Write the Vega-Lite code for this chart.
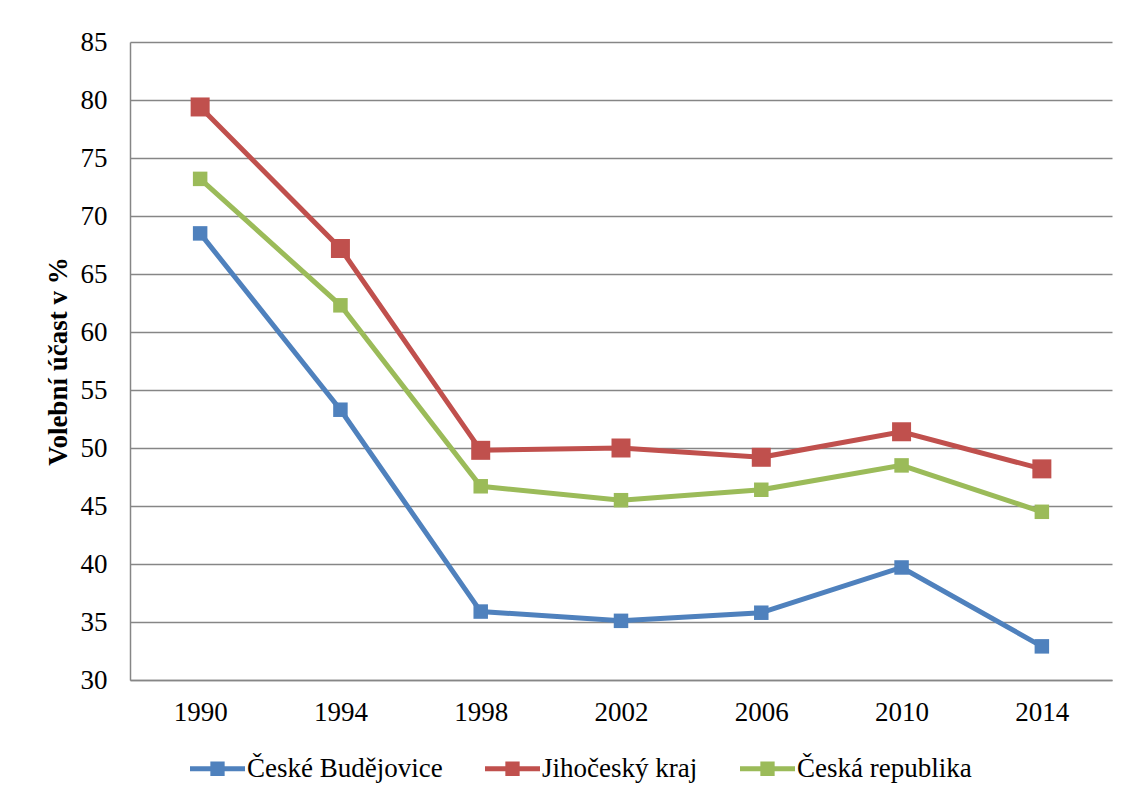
{
  "$schema": "https://vega.github.io/schema/vega-lite/v6.json",
  "width": 982,
  "height": 638,
  "autosize": {"type": "none"},
  "padding": {"left": 130, "top": 42, "right": 17, "bottom": 118},
  "background": "white",
  "data": {
    "values": [
      {"series": "České Budějovice", "year": "1990", "value": 68.5},
      {"series": "České Budějovice", "year": "1994", "value": 53.3},
      {"series": "České Budějovice", "year": "1998", "value": 35.9},
      {"series": "České Budějovice", "year": "2002", "value": 35.1},
      {"series": "České Budějovice", "year": "2006", "value": 35.8},
      {"series": "České Budějovice", "year": "2010", "value": 39.7},
      {"series": "České Budějovice", "year": "2014", "value": 32.9},
      {"series": "Jihočeský kraj", "year": "1990", "value": 79.4},
      {"series": "Jihočeský kraj", "year": "1994", "value": 67.2},
      {"series": "Jihočeský kraj", "year": "1998", "value": 49.8},
      {"series": "Jihočeský kraj", "year": "2002", "value": 50.0},
      {"series": "Jihočeský kraj", "year": "2006", "value": 49.2},
      {"series": "Jihočeský kraj", "year": "2010", "value": 51.4},
      {"series": "Jihočeský kraj", "year": "2014", "value": 48.2},
      {"series": "Česká republika", "year": "1990", "value": 73.2},
      {"series": "Česká republika", "year": "1994", "value": 62.3},
      {"series": "Česká republika", "year": "1998", "value": 46.7},
      {"series": "Česká republika", "year": "2002", "value": 45.5},
      {"series": "Česká republika", "year": "2006", "value": 46.4},
      {"series": "Česká republika", "year": "2010", "value": 48.5},
      {"series": "Česká republika", "year": "2014", "value": 44.5}
    ]
  },
  "encoding": {
    "x": {
      "field": "year", "type": "ordinal", "sort": null,
      "scale": {"type": "point", "padding": 0.5},
      "axis": {"title": null, "labelAngle": 0, "ticks": false, "tickSize": 0, "labelPadding": 19, "grid": false,
        "labelFont": "Liberation Serif", "labelFontSize": 27, "labelColor": "black"}
    },
    "y": {
      "field": "value", "type": "quantitative",
      "scale": {"domain": [30, 85], "nice": false, "zero": false},
      "axis": {"title": "Volební účast v %", "values": [30,35,40,45,50,55,60,65,70,75,80,85], "ticks": false, "tickSize": 0, "labelPadding": 23, "titlePadding": 8, "grid": true,
        "labelFont": "Liberation Serif", "labelFontSize": 27, "labelColor": "black",
        "titleFont": "Liberation Serif", "titleFontSize": 27, "titleFontWeight": "bold", "titleColor": "black"}
    },
    "color": {
      "field": "series", "type": "nominal",
      "scale": {"domain": ["České Budějovice", "Jihočeský kraj", "Česká republika"], "range": ["#4F81BD", "#C0504D", "#9BBB59"]},
      "legend": {
        "orient": "none", "legendX": 60, "legendY": 699, "direction": "horizontal", "title": null,
        "symbolType": "M-1,-0.09H1V0.09H-1Z M-0.26,-0.26H0.26V0.26H-0.26Z",
        "symbolSize": 3025, "symbolStrokeWidth": 0, "symbolOpacity": 1,
        "labelFont": "Liberation Serif", "labelFontSize": 27, "labelColor": "black", "labelOffset": 2, "labelLimit": 400,
        "columnPadding": 42,
        "encode": {"symbols": {"update": {"fill": {"scale": "color", "field": "value"}, "stroke": {"value": "transparent"}, "opacity": {"value": 1}}}}
      }
    }
  },
  "layer": [
    {"mark": {"type": "line", "strokeWidth": 5}},
    {
      "mark": {"type": "point", "shape": "square", "filled": true, "opacity": 1},
      "encoding": {
        "size": {"condition": {"test": "datum.series === 'Jihočeský kraj'", "value": 361}, "value": 210}
      }
    }
  ],
  "config": {
    "view": {"stroke": null},
    "axis": {
      "labelFont": "Liberation Serif", "labelFontSize": 27, "labelColor": "black",
      "titleFont": "Liberation Serif", "titleFontSize": 27, "titleFontWeight": "bold", "titleColor": "black",
      "domainColor": "#868686", "domainWidth": 1.5, "gridColor": "#868686", "gridWidth": 1.5, "gridOpacity": 1
    },
    "legend": {"labelFont": "Liberation Serif", "labelFontSize": 27}
  }
}
